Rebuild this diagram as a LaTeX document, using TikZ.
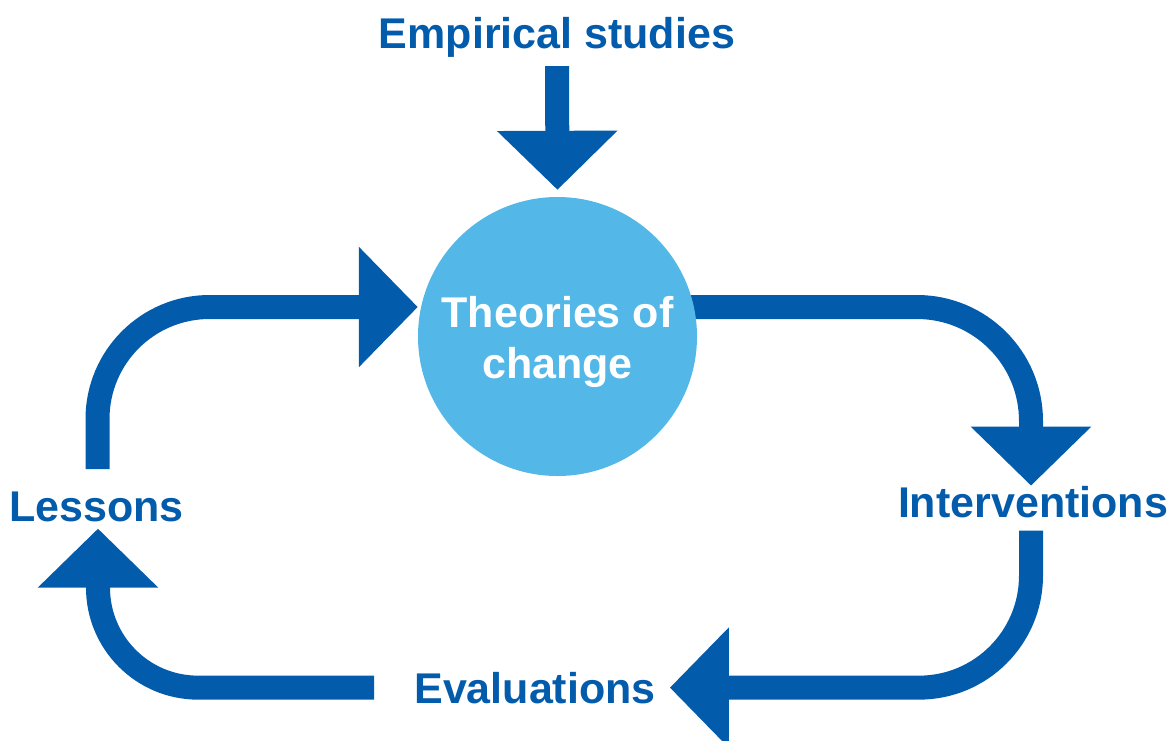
\documentclass[tikz,border=0pt]{standalone}
\usepackage{fontspec}
\setmainfont{Liberation Sans}
\usepackage{tikz}
\usetikzlibrary{arrows.meta}
\usetikzlibrary{backgrounds}
\definecolor{flowblue}{RGB}{3,92,171}
\definecolor{circblue}{RGB}{83,183,232}

\begin{document}
\begin{tikzpicture}[x=1pt,y=-1pt,
  lbl/.style={inner sep=0pt,anchor=base,text=flowblue,font=\bfseries\fontsize{43}{51}\selectfont},
  flow/.style={line width=24pt,color=flowblue,rounded corners=112pt,-{Triangle[width=117pt,length=59pt]}}]
\useasboundingbox (0,0) rectangle (1176,740);
\node[circle,fill=circblue,minimum size=279pt,inner sep=0pt,text=white,align=center,
  font=\bfseries\fontsize{43}{51}\selectfont] (toc) at (557.5,336.5) {\rule{0pt}{43pt}Theories of\\change};
\node[lbl] (emp) at (557,48) {Empirical studies};
\node[lbl] (int) at (1033,517) {Interventions};
\node[lbl] (eval) at (535,703) {Evaluations};
\node[lbl] (less) at (96.5,521) {Lessons};
\begin{scope}[on background layer]
\draw[flow,shorten <=9pt,shorten >=7pt] (emp.south) -- (toc.north);
\draw[flow,rounded corners=114pt] ([yshift=29.5pt]toc.center) -| ([xshift=-2pt]int.north);
\draw[flow,shorten <=13pt,shorten >=14pt] ([xshift=-2pt]int.south) |- (eval.east);
\draw[flow,rounded corners=100pt,shorten <=40pt,shorten >=7pt] (eval.west) -| ([xshift=1.5pt]less.south);
\draw[flow,shorten <=22pt] ([xshift=1pt]less.north) |- ([yshift=29.5pt]toc.west);
\end{scope}
\end{tikzpicture}
\end{document}
